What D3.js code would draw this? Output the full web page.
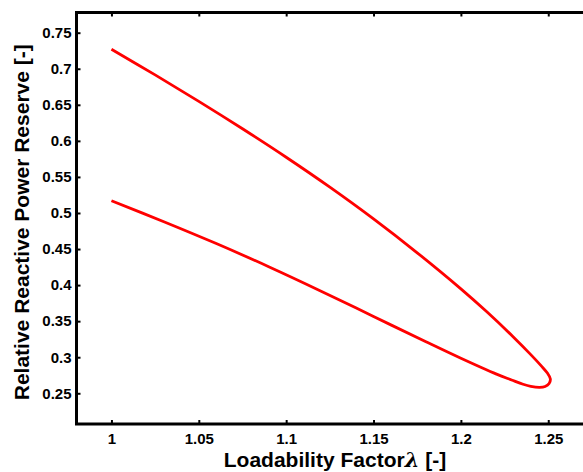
<!DOCTYPE html>
<html>
<head>
<meta charset="utf-8">
<script src="https://cdn.jsdelivr.net/npm/d3@7"></script>
<style>
  html, body { margin: 0; padding: 0; background: #fff; }
  svg { display: block; }
  text { font-family: "Liberation Sans", Arial, Helvetica, sans-serif; font-weight: bold; fill: #000; }
</style>
</head>
<body>
<script>
// PV-type nose curve: relative reactive power reserve vs. loadability factor

// Upper branch, from the base case out towards the nose
const lambdaUpper  = [1.000, 1.025, 1.050, 1.075, 1.100, 1.125, 1.150, 1.175, 1.200, 1.215, 1.230, 1.240, 1.2460, 1.2495];
const reserveUpper = [0.7270, 0.6915, 0.6548, 0.6168, 0.5773, 0.5358, 0.4918, 0.4448, 0.3948, 0.3626, 0.3281, 0.3036, 0.2880, 0.2780];

// Nose tip and lower branch, back to the base case
const lambdaLower  = [1.2512, 1.2505, 1.2482, 1.2450, 1.2400, 1.2356, 1.2290, 1.2204, 1.2000, 1.1800, 1.1500, 1.1200, 1.0900, 1.0600, 1.0300, 1.0000];
const reserveLower = [0.2700, 0.2635, 0.2594, 0.2582, 0.2596, 0.2625, 0.2685, 0.2765, 0.2985, 0.3214, 0.3565, 0.3916, 0.4255, 0.4576, 0.4879, 0.5170];

// Axis ticks and labels
const xTicks = [1, 1.05, 1.1, 1.15, 1.2, 1.25];
const xTickLabels = ["1", "1.05", "1.1", "1.15", "1.2", "1.25"];
const yTicks = [0.25, 0.3, 0.35, 0.4, 0.45, 0.5, 0.55, 0.6, 0.65, 0.7, 0.75];
const yTickLabels = ["0.25", "0.3", "0.35", "0.4", "0.45", "0.5", "0.55", "0.6", "0.65", "0.7", "0.75"];

const xDomain = [0.98, 1.27];
const yDomain = [0.2074, 0.778];

const W = 583, H = 472;
const box = { left: 76.5, top: 12.5, right: 583.2, bottom: 424 };

const svg = d3.select("body").append("svg")
  .attr("width", W).attr("height", H);

const x = d3.scaleLinear().domain(xDomain).range([box.left, box.right]);
const y = d3.scaleLinear().domain(yDomain).range([box.bottom, box.top]);

// Curve
const pts = lambdaUpper.map((l, i) => [l, reserveUpper[i]])
  .concat(lambdaLower.map((l, i) => [l, reserveLower[i]]));

svg.append("path")
  .datum(pts)
  .attr("fill", "none")
  .attr("stroke", "#ff0000")
  .attr("stroke-width", 2.8)
  .attr("stroke-linejoin", "round")
  .attr("stroke-linecap", "butt")
  .attr("d", d3.line().x(d => x(d[0])).y(d => y(d[1])).curve(d3.curveCatmullRom.alpha(0.5)));

// Axes: inward ticks, labels outside
const tickLen = 4;
const xBottom = d3.axisBottom(x).tickValues(xTicks).tickSizeInner(-tickLen).tickSizeOuter(0)
  .tickPadding(9).tickFormat((d, i) => xTickLabels[i]);
const xTop = d3.axisTop(x).tickValues(xTicks).tickSizeInner(-tickLen).tickSizeOuter(0).tickFormat("");
const yLeft = d3.axisLeft(y).tickValues(yTicks).tickSizeInner(-tickLen).tickSizeOuter(0)
  .tickPadding(5).tickFormat((d, i) => yTickLabels[i]);

function styleAxis(g) {
  g.select(".domain").remove();
  g.selectAll(".tick line").attr("stroke", "#000").attr("stroke-width", 2);
  g.selectAll(".tick text").style("font-size", "15px").attr("fill", "#000");
}

svg.append("g").attr("transform", `translate(0,${box.bottom})`).call(xBottom).call(styleAxis);
svg.append("g").attr("transform", `translate(0,${box.top})`).call(xTop).call(styleAxis);
svg.append("g").attr("transform", `translate(${box.left},0)`).call(yLeft).call(styleAxis);

// Frame (right side lies at the window edge)
svg.append("rect")
  .attr("x", box.left).attr("y", box.top)
  .attr("width", box.right - box.left + 2).attr("height", box.bottom - box.top)
  .attr("fill", "none").attr("stroke", "#000").attr("stroke-width", 3);

// Axis titles
const xTitle = svg.append("text")
  .attr("x", 335).attr("y", 467)
  .attr("text-anchor", "middle")
  .style("font-size", "21px");
xTitle.append("tspan").text("Loadability Factor");
xTitle.append("tspan").style("font-family", "'DejaVu Serif', serif").style("font-style", "italic").text("\u03BB");
xTitle.append("tspan").text(" [-]");

svg.append("text")
  .attr("transform", `translate(29,${(box.top + box.bottom) / 2 + 4}) rotate(-90)`)
  .attr("text-anchor", "middle")
  .style("font-size", "21px")
  .text("Relative Reactive Power Reserve [-]");
</script>
</body>
</html>
